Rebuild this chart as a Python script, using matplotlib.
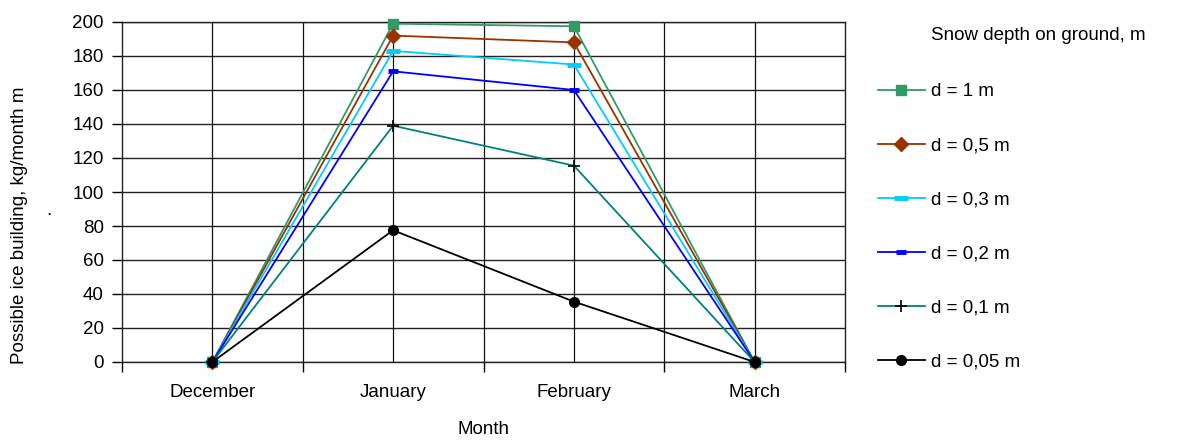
import numpy as np
import matplotlib.pyplot as plt

plt.rcParams['font.family'] = ['Liberation Sans', 'DejaVu Sans']

months = ['December', 'January', 'February', 'March']
labels = ['d = 1 m', 'd = 0,5 m', 'd = 0,3 m', 'd = 0,2 m', 'd = 0,1 m', 'd = 0,05 m']
d_100 = [0, 199, 197.5, 0]
d_050 = [0, 192, 188, 0]
d_030 = [0, 183, 175, 0]
d_020 = [0, 171, 160, 0]
d_010 = [0, 139, 115.5, 0]
d_005 = [0, 77.5, 35.5, 0]

series = [d_100, d_050, d_030, d_020, d_010, d_005]
colors = ['#339966', '#993300', '#00ccff', '#0000ff', '#008080', '#000000']
markers = ['s', 'D', '_', '_', '+', 'o']
msizes = [7, 7, 10, 7, 9, 7]
mews = [1, 1, 3.5, 3.5, 1.2, 1]
mfc = ['#339966', '#993300', '#00ccff', '#0000ff', 'black', 'black']

FS = 13.5

fig = plt.figure(figsize=(11.79, 4.45), dpi=100)
ax = fig.add_axes([122 / 1179, 1 - 362 / 445, (845 - 122) / 1179, (362 - 22) / 445])

x = np.arange(len(months)) + 0.5
handles = []
for vals, c, m, ms, mw, fc, lab in zip(series, colors, markers, msizes, mews, mfc, labels):
    h, = ax.plot(x, vals, color=c, lw=1.3, marker=m, markersize=ms,
                 markerfacecolor=fc, markeredgecolor=fc, markeredgewidth=mw,
                 label=lab, zorder=3, clip_on=False)
    handles.append(h)

ax.set_xlim(0, 4)
ax.set_ylim(0, 200)
ax.set_yticks(np.arange(0, 201, 20))
ax.set_xticks(np.arange(0, 5, 1))
ax.set_xticklabels([])
ax.set_xticks(x, minor=True)
ax.set_xticklabels(months, minor=True)
ax.tick_params(axis='x', which='major', length=7, width=1, direction='out')
ax.tick_params(axis='x', which='minor', length=0, pad=16, labelsize=FS)
ax.tick_params(axis='y', length=7, width=1, direction='out', labelsize=FS, pad=6)

ax.grid(True, axis='y', color='#222222', lw=1)
for xv in np.arange(0.5, 4, 0.5):
    ax.axvline(xv, color='#111111', lw=0.9, zorder=1)
for s in ax.spines.values():
    s.set_color('#222222')
    s.set_linewidth(1)
ax.set_axisbelow(True)

ax.set_xlabel('Month', fontsize=FS, labelpad=14)
fig.text(20 / 1179, 1 - 225 / 445, 'Possible ice building, kg/month m', rotation=90,
         ha='center', va='center', fontsize=FS)
fig.text(49 / 1179, 1 - 210 / 445, '.', ha='center', va='center', fontsize=FS)

fig.text(931 / 1179, 1 - 35 / 445, 'Snow depth on ground, m', ha='left', va='center', fontsize=FS)
fig.legend(handles=handles, loc='upper left', bbox_to_anchor=(878 / 1179, 1 - 83 / 445),
           frameon=False, fontsize=FS, handlelength=2.5, handletextpad=0.32,
           labelspacing=1.97, borderpad=0, borderaxespad=0)

fig.savefig('out.png', dpi=100)
